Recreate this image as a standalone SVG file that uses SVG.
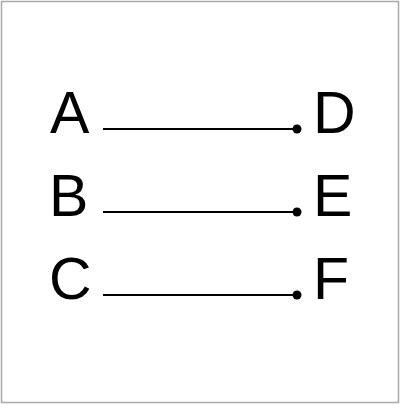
<svg xmlns="http://www.w3.org/2000/svg" width="400" height="405" viewBox="0 0 400 405">
<style>
.lbl{font-family:"Liberation Sans",Arial,sans-serif;font-size:59px;fill:#000}
.edge{stroke:#000;stroke-width:2;fill:none}
</style>
<defs>
<marker id="dot" viewBox="0 0 10 10" refX="5" refY="5" markerWidth="10" markerHeight="10" markerUnits="userSpaceOnUse"><circle cx="5" cy="5" r="4.5" fill="#000"/></marker>
</defs>
<rect x="1.5" y="1.5" width="397" height="401" fill="#fff" stroke="#aaa" stroke-width="1.5"/>
<g id="A"><text class="lbl" x="50" y="133">A</text></g>
<g id="B"><text class="lbl" x="49" y="216">B</text></g>
<g id="C"><text class="lbl" x="49" y="299">C</text></g>
<g id="D"><text class="lbl" x="313" y="133">D</text></g>
<g id="E"><text class="lbl" x="313" y="216">E</text></g>
<g id="F"><text class="lbl" x="313" y="299">F</text></g>
<g id="connectors">
<line class="edge" x1="103" y1="129" x2="297" y2="129" marker-end="url(#dot)"/>
<line class="edge" x1="103" y1="212" x2="297" y2="212" marker-end="url(#dot)"/>
<line class="edge" x1="103" y1="295" x2="297" y2="295" marker-end="url(#dot)"/>
</g>
</svg>
